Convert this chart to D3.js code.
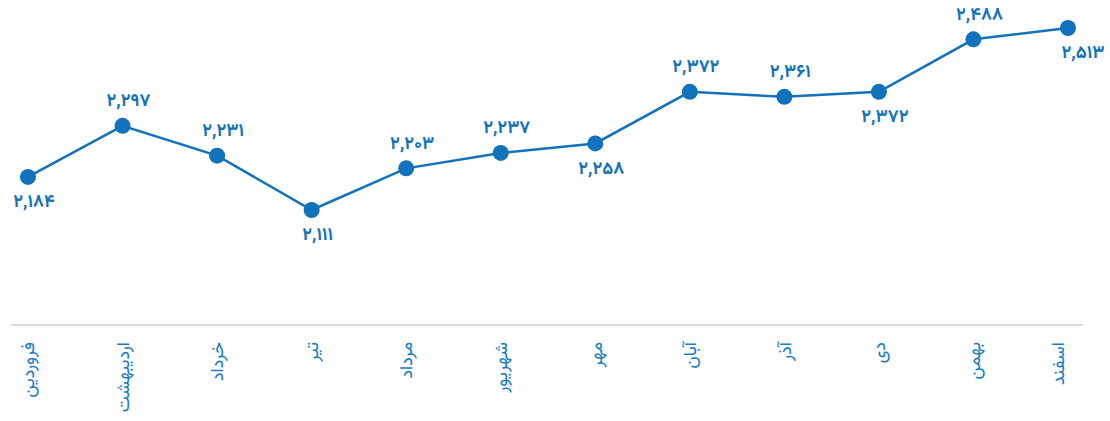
<!DOCTYPE html>
<html lang="fa">
<head>
<meta charset="utf-8">
<script src="https://cdn.jsdelivr.net/npm/d3@7"></script>
<style>
  html, body { margin: 0; padding: 0; background: #fff; }
  svg { display: block; }
  .val { font-family: "Vazirmatn", "Noto Sans Arabic", "DejaVu Sans", sans-serif; font-weight: 700; }
  .mon { font-family: "Vazirmatn", "Noto Sans Arabic", "DejaVu Sans", sans-serif; }
</style>
</head>
<body>
<svg id="chart" width="1110" height="421"></svg>
<script>
// Monthly totals over the Persian calendar year
const months = ["فروردین", "اردیبهشت", "خرداد", "تیر", "مرداد", "شهریور", "مهر", "آبان", "آذر", "دی", "بهمن", "اسفند"];
const values = [2184, 2297, 2231, 2111, 2203, 2237, 2258, 2372, 2361, 2372, 2488, 2513];
// which side of each point its value label sits on
const labelSide = ["below", "above", "above", "below", "above", "above", "below", "above", "above", "below", "above", "below"];

const W = 1110, H = 421;
const margin = { left: 28, right: 42, top: 28, axisY: 325 };
const blue = "#1272bb";
const labelBlue = "#1b7cc4";

const svg = d3.select("#chart");

const x = d3.scalePoint()
  .domain(months)
  .range([margin.left, W - margin.right]);

const y = d3.scaleLinear()
  .domain([1857, 2513])
  .range([margin.axisY, margin.top]);

const faNum = d => d3.format(",")(d).replace(/[0-9]/g, c => "۰۱۲۳۴۵۶۷۸۹"[+c]);

// baseline axis
svg.append("line")
  .attr("x1", 11).attr("x2", 1083)
  .attr("y1", margin.axisY).attr("y2", margin.axisY)
  .attr("stroke", "#dcdcdc").attr("stroke-width", 2);

// month labels, rotated, kept inside the plotting strip
const clampX = v => Math.max(21, Math.min(1058, v));
svg.append("g").selectAll("text")
  .data(months)
  .join("text")
  .attr("class", "mon")
  .attr("transform", d => `translate(${clampX(x(d))},342) rotate(-90)`)
  .attr("text-anchor", "end")
  .attr("dy", "0.35em")
  .attr("font-size", 18)
  .attr("fill", labelBlue)
  .text(d => d);

// line
const line = d3.line()
  .x((d, i) => x(months[i]))
  .y(d => y(d));

svg.append("path")
  .datum(values)
  .attr("d", line)
  .attr("fill", "none")
  .attr("stroke", blue)
  .attr("stroke-width", 2.5);

// points
svg.append("g").selectAll("circle")
  .data(values)
  .join("circle")
  .attr("cx", (d, i) => x(months[i]))
  .attr("cy", d => y(d))
  .attr("r", 8)
  .attr("fill", blue);

// value labels; the last one is nudged out past its point toward the edge
const last = values.length - 1;
svg.append("g").selectAll("text")
  .data(values)
  .join("text")
  .attr("class", "val")
  .attr("x", (d, i) => x(months[i]) + (i === last ? 15 : 6))
  .attr("y", (d, i) => y(d) + (labelSide[i] === "above" ? -26 : 24))
  .attr("dy", "0.35em")
  .attr("text-anchor", "middle")
  .attr("font-size", 18)
  .attr("fill", blue)
  .text(d => faNum(d));
</script>
</body>
</html>
